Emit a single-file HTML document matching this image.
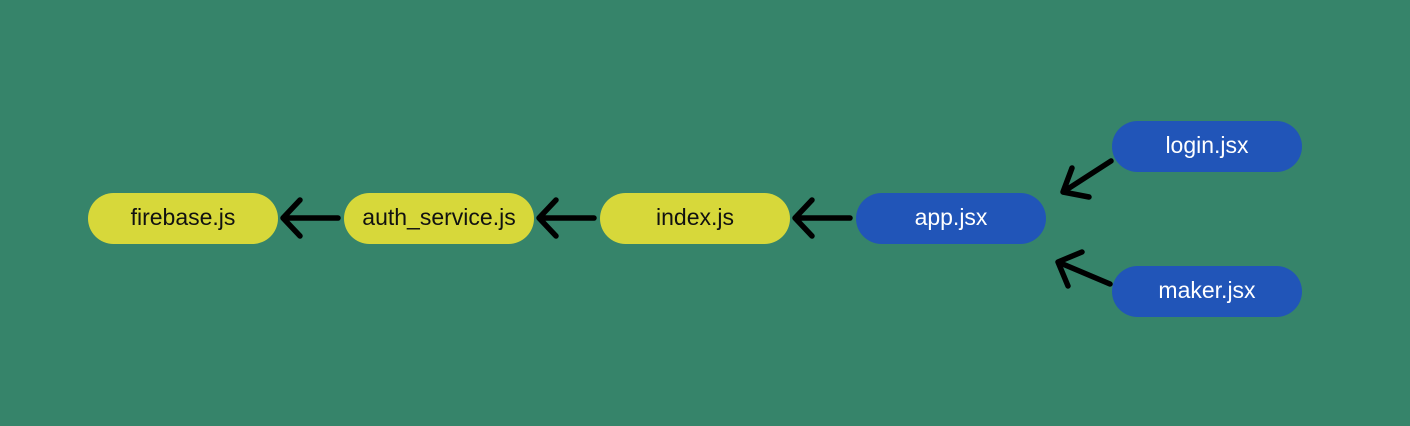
<!DOCTYPE html>
<html><head><style>
html,body{margin:0;padding:0}
body{width:1410px;height:426px;background:#36846a;position:relative;overflow:hidden;font-family:"Liberation Sans",sans-serif}
.n{position:absolute;width:190px;height:51px;border-radius:26px;display:flex;align-items:center;justify-content:center;font-size:23px;padding-bottom:2px;box-sizing:border-box}
.y{background:#d7d83a;color:#111}
.b{background:#2155b8;color:#fff}
svg{position:absolute;left:0;top:0}
</style></head><body>
<div class="n y" style="left:88px;top:193px">firebase.js</div>
<div class="n y" style="left:344px;top:193px">auth_service.js</div>
<div class="n y" style="left:600px;top:193px">index.js</div>
<div class="n b" style="left:856px;top:193px">app.jsx</div>
<div class="n b" style="left:1112px;top:121px">login.jsx</div>
<div class="n b" style="left:1112px;top:266px">maker.jsx</div>
<svg width="1410" height="426" fill="none" stroke="#000" stroke-width="5.5" stroke-linecap="round" stroke-linejoin="round">
<path d="M338 218H284M300 200L283 218L300 236"/>
<path d="M594 218H540M556 200L539 218L556 236"/>
<path d="M850 218H796M812 200L795 218L812 236"/>
<path d="M1111 161L1063 192M1072 168L1063 192L1089 197"/>
<path d="M1110 284L1058 262M1082 252L1058 262L1068 286"/>
</svg>
</body></html>
